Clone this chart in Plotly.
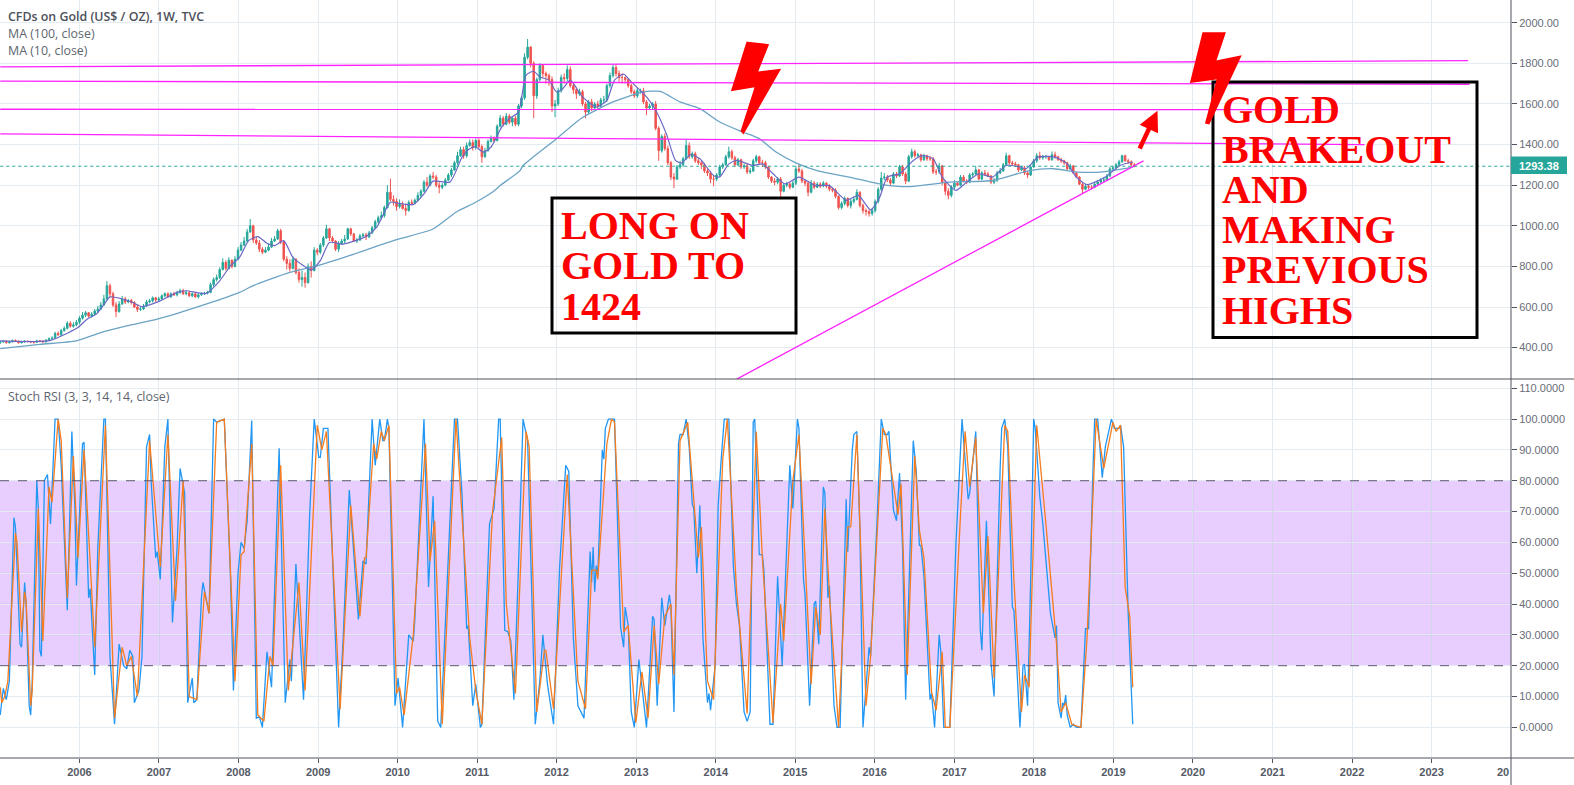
import datetime as dt
import plotly.graph_objects as go
from plotly.subplots import make_subplots

W, H = 1574, 785
AXIS_X = 1511      # price scale starts here
PANE_Y = 379       # border between price and stoch panes
BOTTOM_Y = 758     # time axis line

# weekly bars were too dense to read one by one, so one candle every two weeks
opens = [
    425,428,432,424,428,434,432,424,428,431,430,428,426,433,432,428,436,444,446,470,463,484,495,520,505,512,
    525,545,560,572,555,565,580,590,610,640,705,665,610,578,615,640,625,632,622,600,588,590,605,625,630,645,
    635,640,655,665,650,665,660,672,680,665,670,655,665,650,660,665,668,672,710,735,745,785,820,790,830,800,
    835,880,905,925,970,1000,930,915,885,870,880,895,925,935,975,920,835,815,790,835,770,735,745,720,800,780,880,
    870,905,940,985,940,925,885,910,925,935,985,960,925,930,950,955,945,965,990,1020,1040,1050,1090,1165,1130,1120,
    1095,1105,1085,1075,1115,1110,1125,1150,1170,1215,1200,1245,1240,1200,1190,1200,1225,1250,1275,1310,1345,1375,1345,1395,1410,1385,
    1420,1390,1340,1370,1415,1430,1420,1490,1530,1500,1540,1510,1530,1500,1590,1630,1830,1880,1800,1640,1720,1790,1750,1740,1720,1590,
    1600,1665,1730,1725,1770,1690,1670,1650,1660,1600,1560,1610,1580,1600,1590,1620,1620,1690,1740,1780,1750,1730,1730,1720,1690,1660,
    1640,1665,1665,1610,1580,1590,1600,1480,1370,1440,1380,1310,1240,1230,1290,1300,1330,1395,1340,1355,1320,1310,1300,1270,1260,1230,
    1230,1250,1290,1300,1340,1365,1335,1300,1325,1290,1295,1265,1270,1320,1340,1310,1310,1290,1240,1220,1215,1230,1170,1200,1205,1190,
    1210,1280,1270,1220,1210,1165,1210,1190,1205,1195,1210,1195,1180,1175,1145,1090,1110,1135,1100,1120,1130,1165,1100,1075,1070,1060,
    1075,1120,1180,1235,1240,1225,1210,1255,1245,1290,1255,1220,1340,1365,1345,1350,1325,1345,1330,1330,1265,1265,1295,1215,1170,1150,
    1190,1210,1200,1240,1220,1215,1250,1255,1275,1230,1260,1255,1245,1215,1225,1260,1270,1300,1345,1310,1305,1300,1275,1285,1260,1250,
    1290,1320,1345,1335,1340,1340,1325,1350,1340,1325,1320,1310,1280,1295,1260,1240,1205,1180,1195,1190,1190,1205,1215,1225,1225,1245,1280,1285,1300,1315,1345,1320,1315,1300,
]
highs = [
    435,438,436,434,440,440,434,433,437,436,434,432,439,438,435,442,450,456,478,480,492,505,530,530,525,536,
    555,575,580,575,575,590,605,625,660,728,715,675,625,630,655,650,640,640,628,610,600,615,635,640,652,650,
    650,662,672,672,672,675,680,690,690,680,680,672,672,668,672,675,680,720,745,760,795,840,830,845,835,850,
    895,920,945,985,1033,1005,945,930,895,895,910,940,950,985,985,925,850,835,850,840,790,780,770,815,825,895,890,
    915,950,1005,990,950,930,925,935,955,990,990,965,940,960,965,965,975,1000,1030,1050,1070,1100,1200,1232,1150,1135,
    1130,1120,1110,1125,1130,1135,1165,1180,1225,1240,1255,1265,1250,1215,1210,1235,1260,1285,1320,1365,1390,1390,1410,1425,1425,1430,
    1430,1400,1385,1425,1445,1440,1500,1545,1540,1555,1550,1540,1540,1600,1640,1850,1920,1885,1810,1730,1800,1790,1760,1750,1735,1620,
    1680,1745,1750,1790,1785,1700,1680,1675,1670,1610,1620,1625,1610,1615,1630,1640,1700,1755,1795,1795,1765,1750,1735,1725,1700,1670,
    1680,1675,1680,1620,1600,1610,1615,1490,1450,1455,1395,1320,1260,1300,1320,1340,1425,1410,1365,1365,1335,1320,1310,1285,1270,1245,
    1260,1300,1310,1350,1390,1375,1345,1335,1330,1305,1305,1285,1330,1350,1345,1325,1320,1295,1245,1235,1240,1240,1210,1215,1215,1225,
    1295,1305,1280,1230,1220,1225,1220,1215,1215,1220,1215,1205,1190,1185,1150,1120,1145,1140,1130,1145,1180,1170,1110,1085,1080,1085,
    1130,1190,1265,1260,1250,1235,1265,1265,1300,1300,1265,1350,1380,1375,1360,1355,1355,1350,1345,1340,1280,1310,1300,1225,1185,1200,
    1225,1220,1250,1250,1230,1260,1265,1295,1280,1270,1275,1265,1250,1235,1270,1285,1310,1360,1350,1320,1315,1305,1295,1295,1270,1300,
    1330,1358,1365,1350,1350,1345,1366,1365,1345,1335,1325,1315,1305,1300,1265,1245,1212,1205,1205,1200,1210,1225,1235,1240,1255,1290,1295,1310,1325,1350,1350,1330,1322,1310,
]
lows = [
    418,424,420,420,426,428,420,420,425,426,422,420,424,426,424,426,434,440,442,458,458,478,490,498,498,505,
    515,538,550,548,548,560,572,585,605,635,645,600,550,572,610,615,618,612,595,575,580,585,600,618,622,625,
    625,635,648,645,645,655,652,665,660,658,650,648,645,642,655,660,662,668,700,725,738,780,780,785,790,795,
    830,875,900,920,965,915,905,870,860,865,875,890,920,930,910,825,785,775,785,760,720,700,695,715,745,775,855,
    860,895,935,925,915,875,870,905,915,930,950,920,915,925,945,930,940,960,985,1010,1030,1040,1085,1120,1100,1075,
    1085,1080,1050,1070,1100,1105,1120,1140,1165,1190,1195,1230,1190,1160,1180,1195,1220,1240,1270,1300,1340,1330,1335,1390,1370,1375,
    1380,1310,1335,1365,1410,1410,1415,1485,1490,1495,1500,1490,1490,1490,1580,1620,1820,1780,1530,1625,1710,1730,1700,1690,1560,1535,
    1590,1655,1700,1710,1680,1650,1625,1640,1590,1530,1550,1565,1570,1570,1580,1605,1610,1680,1730,1735,1710,1700,1700,1680,1650,1630,
    1630,1650,1600,1545,1570,1575,1470,1320,1360,1370,1300,1225,1185,1225,1280,1290,1325,1330,1330,1310,1300,1280,1260,1245,1210,1195,
    1220,1240,1280,1295,1330,1325,1290,1295,1280,1280,1255,1255,1265,1310,1300,1290,1280,1230,1210,1200,1205,1130,1165,1190,1180,1185,
    1200,1260,1210,1195,1145,1160,1180,1185,1185,1190,1185,1170,1165,1135,1080,1080,1100,1090,1085,1110,1125,1090,1060,1050,1045,1050,
    1065,1110,1170,1225,1215,1200,1205,1235,1240,1245,1205,1215,1330,1335,1335,1315,1320,1320,1320,1255,1250,1255,1200,1150,1130,1140,
    1180,1195,1195,1215,1205,1210,1240,1250,1225,1225,1245,1240,1205,1205,1215,1255,1265,1295,1300,1295,1290,1265,1270,1250,1235,1245,
    1285,1310,1325,1325,1330,1320,1320,1330,1320,1310,1300,1275,1275,1255,1235,1200,1160,1175,1180,1180,1185,1200,1210,1215,1220,1240,1275,1280,1295,1310,1315,1305,1295,1288,
]
closes = [
    428,432,424,428,434,432,424,428,431,430,428,426,433,432,428,436,444,446,470,463,484,495,520,505,512,525,
    545,560,572,555,565,580,590,610,640,705,665,610,578,615,640,625,632,622,600,588,590,605,625,630,645,635,
    640,655,665,650,665,660,672,680,665,670,655,665,650,660,665,668,672,710,735,745,785,820,790,830,800,835,
    880,905,925,970,1000,930,915,885,870,880,895,925,935,975,920,835,815,790,835,770,735,745,720,800,780,880,870,
    905,940,985,940,925,885,910,925,935,985,960,925,930,950,955,945,965,990,1020,1040,1050,1090,1165,1130,1120,1095,
    1105,1085,1075,1115,1110,1125,1150,1170,1215,1200,1245,1240,1200,1190,1200,1225,1250,1275,1310,1345,1375,1345,1395,1410,1385,1420,
    1390,1340,1370,1415,1430,1420,1490,1530,1500,1540,1510,1530,1500,1590,1630,1830,1880,1800,1640,1720,1790,1750,1740,1720,1590,1600,
    1665,1730,1725,1770,1690,1670,1650,1660,1600,1560,1610,1580,1600,1590,1620,1620,1690,1740,1780,1750,1730,1730,1720,1690,1660,1640,
    1665,1665,1610,1580,1590,1600,1480,1370,1440,1380,1310,1240,1230,1290,1300,1330,1395,1340,1355,1320,1310,1300,1270,1260,1230,1230,
    1250,1290,1300,1340,1365,1335,1300,1325,1290,1295,1265,1270,1320,1340,1310,1310,1290,1240,1220,1215,1230,1170,1200,1205,1190,1210,
    1280,1270,1220,1210,1165,1210,1190,1205,1195,1210,1195,1180,1175,1145,1090,1110,1135,1100,1120,1130,1165,1100,1075,1070,1060,1075,
    1120,1180,1235,1240,1225,1210,1255,1245,1290,1255,1220,1340,1365,1345,1350,1325,1345,1330,1330,1265,1265,1295,1215,1170,1150,1190,
    1210,1200,1240,1220,1215,1250,1255,1275,1230,1260,1255,1245,1215,1225,1260,1270,1300,1345,1310,1305,1300,1275,1285,1260,1250,1290,
    1320,1345,1335,1340,1340,1325,1350,1340,1325,1320,1310,1280,1295,1260,1240,1205,1180,1195,1190,1190,1205,1215,1225,1225,1245,1280,1285,1300,1315,1345,1320,1315,1300,1293,
]

# lines: week number counted from the first bar, value at that week
ma100_weeks = [0,26,50,66,83,103,135,157,166,190,208,229,260,284,299,312,323,328,341,343,365,382,402,422,433,446,459,472,487,498,509,522,537,557,579,596,623,651,675,691,708,725,743]
ma100_vals = [395,416,433,474,507,540,614,672,705,770,803,853,932,984,1067,1116,1166,1198,1272,1297,1429,1533,1610,1659,1662,1610,1577,1511,1462,1429,1363,1310,1269,1240,1203,1193,1215,1223,1272,1281,1264,1267,1289]

ma10_weeks = [0,22,33,44,51,57,63,69,72,79,87,93,105,116,122,135,144,151,157,163,169,175,180,186,192,199,204,210,216,225,240,247,256,262,271,278,284,295,303,308,312,317,322,329,334,340,345,350,354,360,365,369,374,382,391,398,403,409,414,424,430,437,443,447,453,459,468,472,478,483,494,500,507,515,524,535,544,555,563,571,577,582,590,599,605,612,618,627,634,642,651,660,669,673,681,692,700,706,713,725,735,743]
ma10_vals = [433,430,436,471,499,540,565,622,650,642,622,602,630,672,680,667,729,803,844,927,947,914,902,927,844,803,782,828,918,910,947,993,1116,1110,1105,1157,1220,1215,1338,1379,1388,1363,1388,1486,1528,1560,1742,1761,1733,1717,1659,1675,1717,1635,1585,1618,1717,1747,1709,1635,1569,1453,1322,1309,1351,1330,1248,1240,1305,1322,1297,1305,1256,1206,1240,1198,1198,1125,1150,1078,1141,1240,1256,1322,1346,1330,1240,1174,1215,1256,1240,1297,1290,1281,1338,1338,1305,1240,1203,1240,1298,1314]

stoch_k_weeks = [0,2,4,6,9,10,13,14,16,17,19,20,21,24,25,26,27,29,31,33,36,38,40,44,45,47,49,50,54,55,58,59,62,64,68,69,72,75,78,81,83,85,87,88,91,93,96,98,99,102,103,105,108,110,113,116,118,121,123,126,127,129,132,133,137,140,142,147,151,153,156,158,160,162,165,168,170,172,175,178,183,187,190,191,194,199,203,206,209,210,212,215,218,222,225,229,235,238,240,244,246,249,251,252,254,255,259,261,264,268,271,272,278,281,284,287,289,298,300,303,306,307,310,312,315,316,321,324,327,328,331,333,335,337,340,343,346,348,351,354,356,359,363,367,371,373,376,379,383,387,388,389,390,391,392,395,396,397,399,403,407,409,410,412,414,416,418,419,424,428,429,431,434,436,439,440,442,445,446,448,450,452,454,455,457,459,461,464,465,466,469,471,473,475,478,481,483,485,488,490,492,494,495,498,500,501,505,507,510,513,518,520,523,524,527,528,531,534,535,537,540,541,543,544,547,549,551,555,556,559,560,562,564,566,570,571,575,578,580,582,583,586,588,590,592,594,599,601,603,604,606,610,611,613,616,617,619,623,627,631,635,636,640,643,644,647,650,652,656,657,659,661,664,665,669,671,672,674,676,678,679,682,684,687,689,692,693,694,696,697,698,699,700,702,704,706,709,712,714,717,718,720,723,725,727,729,731,734,735,737,740,742,743]
stoch_k_vals = [4,12.6,9,15,68,65,27,26,47,40,7,4,15,80,71,25,23,80,82,66,100,100,85,38,56,96,71,46,92,92.5,42,45,17,58,100,100,23,1,27,20,19,25,23,8,12,23,91,95,80,55,57,48,91,100,34,58,84,76,8,16,8,9,42,47,37,100,99,100,50,12,50,60,58,67,99.5,3,3.5,0,24.5,13,90.5,8,22,15,53,9,69,100,87.6,87.6,97,97,55,0,29,77,35,54,53,100,85,100,93,93,100,97,7,16,0,30,28,35,100,45.5,75,2,0,100,100,75,32,33,7,14,0,1,66,71,100,100,31.5,31,28,9,52,100,93,57,1,15,30,14,1,52,85,83,29,7,3,57,47,58.5,44,52.5,49,90,87,97,100,100,32.5,26,39,33,5,0,16,22,0,36,35,7,42,33,43,39,5,92,95,95,100,91,72.5,71,50,72,29,8,11,5.6,20,72,87,100,100,52,40,33,5,2,5,99,100,56,56,51,1,1,49,20,85,71,100,97,48,43,7,40,41,27,78,76,42,46,7,0,0,74,57,90,95,96,64,0,26,23,64,100,95,95,96,70.5,67,82.5,58,9,93,83,59,59,49,9,11,0,30,25,0,0,59.5,100,74,76,96,31.5,25,67,21,10,84,97,100,91,39,38,0,20,20.5,7,47,100,97,75,66,49,37,29,33,8,3,8,7,10.5,4,0,1,0,0,32,32,85,100,100,81,91,95,100,97,97,98,91,37,12,1]

stoch_d_weeks = [0,1,3,5,10,11,14,16,17,20,21,25,28,32,34,38,40,44,48,51,55,62,69,75,80,83,86,90,98,105,110,115,120,124,129,134,137,142,147,154,158,160,165,169,173,177,179,184,189,196,200,208,211,214,223,230,236,239,240,245,247,250,252,255,260,262,265,271,279,282,285,290,299,308,312,316,323,329,332,334,338,345,347,352,357,358,363,372,379,384,388,391,392,398,401,403,409,412,417,421,425,429,432,436,440,442,446,451,455,458,460,464,468,474,477,483,490,496,500,507,512,514,520,524,532,535,538,541,544,550,556,558,562,568,571,579,581,589,591,595,600,603,606,611,614,618,620,623,630,633,636,640,645,648,652,659,661,665,670,672,675,680,686,693,696,699,703,709,713,719,724,730,732,735,738,741,743]
stoch_d_vals = [13,8,10,15,63,60,31,44,41,7,12,71,28,78,73,100,93,42,88,55,90,26,98,3,26,20,23,10,93,52,95,41,80,10,9,44,37,99,100,15,56,57,92,4,2,23,20,85,12,47,12,98,90,96,6,72,36,55,55,92,87,96,93,98,11,13,4,30,92,54,67,1,100,29,12,1,70,94,40,30,11,96,91,5,25,25,6,82,15,6,51,51,48,92,100,99,31,33,1.5,18,3,33,14,36,40,17,93,99,72,55,65,15,9,87,100,45,4.5,96,55,1.5,40,28,80,95,14,39,30,71,43,0,65,65,95,7,23,97,95,69,79,17,88,64,55,11.5,5.6,24.5,0,0,69,96,78,94,37,62,16,98,96,48,5,17,13,98,66,27,5,8,1,0,29,100,84,99,96,98,45.5,36,13]

year_ticks = list(range(2006, 2024))
price_ticks = [400, 600, 800, 1000, 1200, 1400, 1600, 1800, 2000]
stoch_ticks = [0, 10, 20, 30, 40, 50, 60, 70, 80, 90, 100, 110]
last_price = 1293.38

# hand drawn trend lines: (weeks, prices)
trend_lines = [
    ([0, 963], [1783, 1813]),
    ([0, 964], [1712, 1697]),
    ([0, 875], [1574, 1572]),
    ([0, 895], [1453, 1400]),
    ([482, 750], [240, 1320]),
]

long_lines = ["LONG ON", "GOLD TO", "1424"]
brake_lines = ["GOLD", "BRAKEOUT", "AND", "MAKING", "PREVIOUS", "HIGHS"]

GRID = "#e4ecf2"
BAND_GRID = "rgba(100,60,170,0.13)"
AXIS = "#50535e"
TEAL = "#26a69a"
RED = "#ef5350"
MAGENTA = "#ff22ff"
START = dt.date(2005, 1, 2)


def week_date(w):
    return START + dt.timedelta(days=7 * w)


def px(x):
    return x / W


def py(y):
    return 1 - y / H


def bolt_path(points):
    return "M " + " L ".join(f"{px(x):.5f},{py(y):.5f}" for x, y in points) + " Z"


bar_dates = [START + dt.timedelta(days=14 * i) for i in range(len(closes))]

fig = make_subplots(rows=2, cols=1, shared_xaxes=True, vertical_spacing=0)

fig.add_trace(go.Candlestick(
    x=bar_dates, open=opens, high=highs, low=lows, close=closes,
    increasing=dict(line=dict(color=TEAL, width=1), fillcolor=TEAL),
    decreasing=dict(line=dict(color=RED, width=1), fillcolor=RED),
    whiskerwidth=0), row=1, col=1)

fig.add_trace(go.Scatter(x=[week_date(w) for w in ma100_weeks], y=ma100_vals, mode="lines",
                         line=dict(color="#6ba3c4", width=1.3, shape="spline", smoothing=0.6)), row=1, col=1)
fig.add_trace(go.Scatter(x=[week_date(w) for w in ma10_weeks], y=ma10_vals, mode="lines",
                         line=dict(color="#6a68c6", width=1.2, shape="spline", smoothing=0.6)), row=1, col=1)

for weeks, prices in trend_lines:
    fig.add_trace(go.Scatter(x=[week_date(w) for w in weeks], y=prices, mode="lines",
                             line=dict(color=MAGENTA, width=1.3)), row=1, col=1)

# last price line
fig.add_trace(go.Scatter(x=[week_date(0), dt.date(2024, 1, 1)], y=[last_price, last_price], mode="lines",
                         line=dict(color=TEAL, width=1, dash="dot")), row=1, col=1)

fig.add_trace(go.Scatter(x=[week_date(w) for w in stoch_k_weeks], y=stoch_k_vals, mode="lines",
                         line=dict(color="#2196f3", width=1.3)), row=2, col=1)
fig.add_trace(go.Scatter(x=[week_date(w) for w in stoch_d_weeks], y=stoch_d_vals, mode="lines",
                         line=dict(color="#f57c1f", width=1.3)), row=2, col=1)

shapes = [
    # stoch band and its dashed borders
    dict(type="rect", xref="paper", yref="y2", x0=0, x1=px(AXIS_X), y0=20, y1=80,
         fillcolor="rgba(140,10,255,0.2)", line_width=0, layer="between"),
    dict(type="line", xref="paper", yref="y2", x0=0, x1=px(AXIS_X), y0=80, y1=80,
         line=dict(color="#5d5870", width=1, dash="dash"), layer="above"),
    dict(type="line", xref="paper", yref="y2", x0=0, x1=px(AXIS_X), y0=20, y1=20,
         line=dict(color="#5d5870", width=1, dash="dash"), layer="above"),
    # pane borders
    dict(type="line", xref="paper", yref="paper", x0=0, x1=1, y0=py(PANE_Y), y1=py(PANE_Y),
         line=dict(color=AXIS, width=1)),
    dict(type="line", xref="paper", yref="paper", x0=0, x1=1, y0=py(BOTTOM_Y), y1=py(BOTTOM_Y),
         line=dict(color=AXIS, width=1)),
    dict(type="line", xref="paper", yref="paper", x0=px(AXIS_X), x1=px(AXIS_X), y0=0, y1=1,
         line=dict(color=AXIS, width=1)),
    # text boxes
    dict(type="rect", xref="paper", yref="paper", x0=px(552), x1=px(796), y0=py(198), y1=py(333),
         line=dict(color="black", width=3)),
    dict(type="rect", xref="paper", yref="paper", x0=px(1213), x1=px(1477), y0=py(82), y1=py(337.5),
         line=dict(color="black", width=3)),
    # lightning bolts
    dict(type="path", xref="paper", yref="paper", fillcolor="#ff0000", line=dict(color="#ff0000", width=2),
         path=bolt_path([(747.3, 42.7), (767.7, 45), (756.7, 72.7), (779.3, 70), (743.3, 132.7),
                         (741.7, 130.7), (756, 86), (732.3, 90)])),
    dict(type="path", xref="paper", yref="paper", fillcolor="#ff0000", line=dict(color="#ff0000", width=2),
         path=bolt_path([(1203.3, 33.3), (1224.5, 33.3), (1215, 61.7), (1240, 56.7), (1208.8, 123.3),
                         (1206.2, 122.7), (1218, 78.3), (1191.2, 81.7)])),
    # last price tag
    dict(type="rect", xref="paper", yref="paper", x0=px(AXIS_X), x1=px(1567), y0=py(156.5), y1=py(174),
         fillcolor=TEAL, line_width=0),
]

# grid looks darker inside the band
for v in range(30, 80, 10):
    shapes.append(dict(type="line", xref="paper", yref="y2", x0=0, x1=px(AXIS_X), y0=v, y1=v,
                       line=dict(color=BAND_GRID, width=1), layer="between"))
for y in year_ticks:
    shapes.append(dict(type="line", xref="x2", yref="y2", x0=dt.date(y, 1, 1), x1=dt.date(y, 1, 1), y0=20, y1=80,
                       line=dict(color=BAND_GRID, width=1), layer="between"))

annotations = []


def add_text(x, y, text, size, color, family, weight=400, anchor="left"):
    annotations.append(dict(xref="paper", yref="paper", x=px(x), y=py(y), text=text, showarrow=False,
                            xanchor=anchor, yanchor="middle", borderpad=0,
                            font=dict(size=size, color=color, family=family, weight=weight)))


add_text(7, 17, "CFDs on Gold (US$ / OZ), 1W, TVC", 12.4, "#4c5059", "Open Sans", 600)
add_text(7, 34, "MA (100, close)", 12.4, "#60646e", "Open Sans")
add_text(7, 51, "MA (10, close)", 12.4, "#60646e", "Open Sans")
add_text(7, 396, "Stoch RSI (3, 3, 14, 14, close)", 12.4, "#60646e", "Open Sans")

SERIF = "Liberation Serif"
for i, line in enumerate(long_lines):
    add_text(559.5, 226 + 40 * i, line, 40, "#ff0000", SERIF, 700)
for i, line in enumerate(brake_lines):
    add_text(1221, 110 + 40 * i, line, 40, "#ff0000", SERIF, 700)

add_text(1539, 165.5, f"{last_price:.2f}", 11, "white", "Liberation Sans", 700, anchor="center")
add_text(1510, 772, "20", 11, "#555a66", "Liberation Sans", 700, anchor="right")

# red arrow towards the next level
annotations.append(dict(xref="paper", yref="paper", x=px(1157.5), y=py(110.7), text="", showarrow=True,
                        ax=-18.5, ay=39.3, arrowcolor="#ff0000", arrowwidth=4.5, arrowhead=2, arrowsize=0.9))

x_common = dict(type="date", range=[dt.date(2005, 1, 1), dt.date(2024, 1, 1)],
                domain=[0, px(AXIS_X)], tickvals=[dt.date(y, 1, 1) for y in year_ticks],
                ticktext=[str(y) for y in year_ticks], showgrid=True, gridcolor=GRID, gridwidth=1,
                zeroline=False, showline=False, rangeslider_visible=False)
fig.update_xaxes(**x_common)
fig.update_xaxes(ticks="", showticklabels=False, row=1, col=1)
fig.update_xaxes(ticks="outside", ticklen=4, tickcolor=AXIS, showticklabels=True,
                 tickfont=dict(size=11, color="#555a66", family="Liberation Sans", weight=700), row=2, col=1)

y_common = dict(side="right", showgrid=True, gridcolor=GRID, gridwidth=1, zeroline=False, showline=False,
                ticks="outside", ticklen=5, tickcolor=AXIS,
                tickfont=dict(size=11, color="#6a6d78", family="Liberation Sans"))
fig.update_yaxes(**y_common)
fig.update_yaxes(range=[245.4, 2112], domain=[py(PANE_Y), 1], tickvals=price_ticks, tickformat=".2f", row=1, col=1)
fig.update_yaxes(range=[-9.94, 113], domain=[py(BOTTOM_Y), py(PANE_Y)], tickvals=stoch_ticks, tickformat=".4f", row=2, col=1)

fig.update_layout(width=W, height=H, margin=dict(l=0, r=0, t=0, b=0), showlegend=False,
                  paper_bgcolor="white", plot_bgcolor="white", shapes=shapes, annotations=annotations)

fig.write_html("out.html", config={"displayModeBar": False}, post_script="document.body.style.margin='0';")
